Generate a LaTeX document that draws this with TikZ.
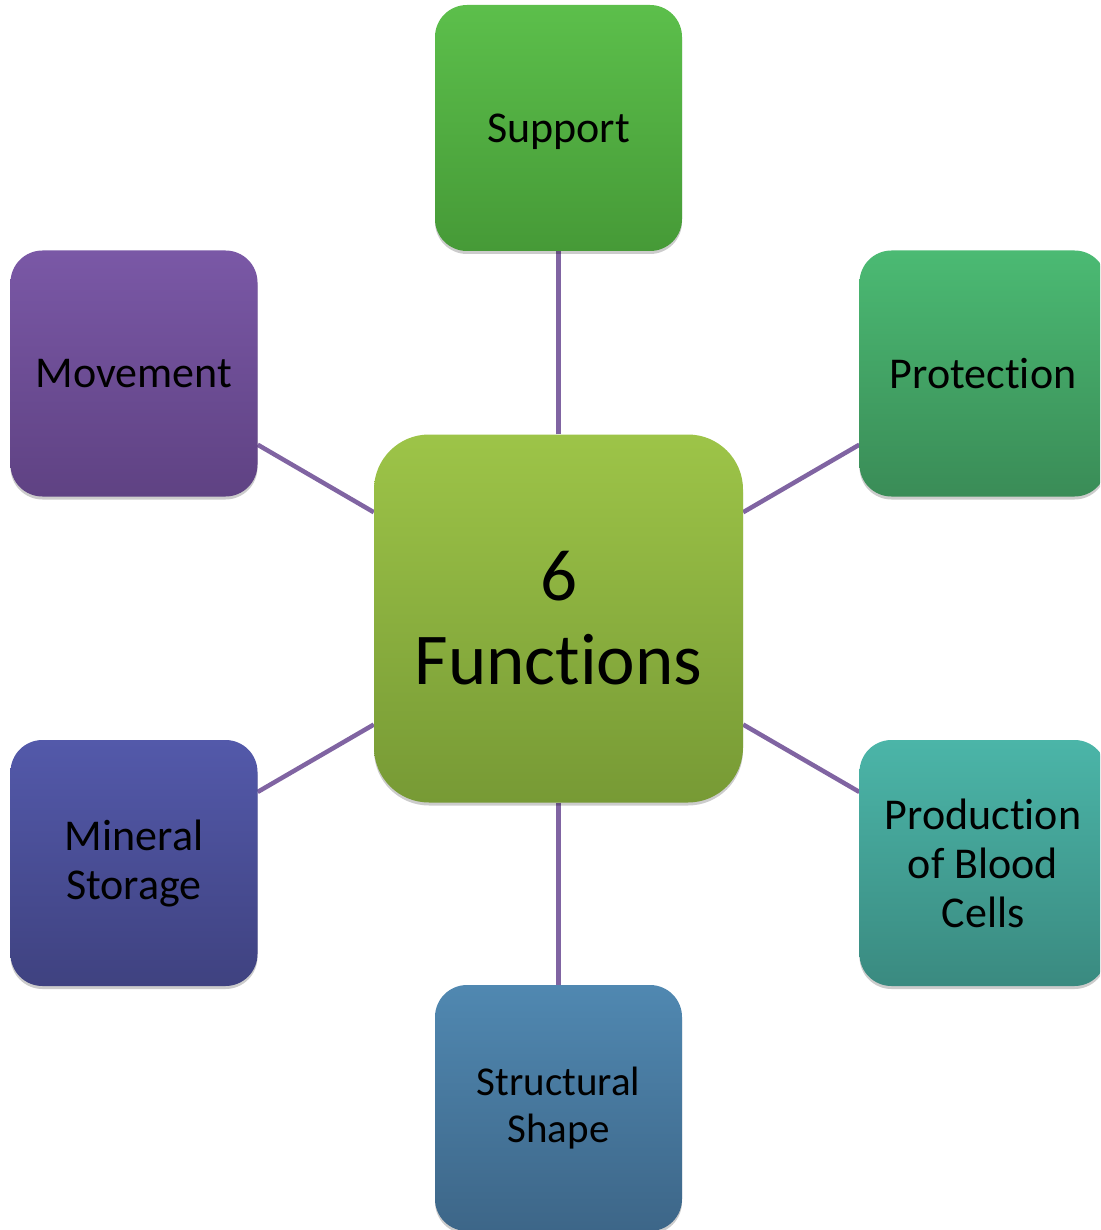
\documentclass[tikz,border=0pt]{standalone}
\usepackage{fontspec}
\setmainfont[Ligatures={NoCommon,NoRare,NoContextual}]{Carlito}
\usetikzlibrary{backgrounds,shadows}
\newcommand{\nolig}{\kern0pt}
\definecolor{linec}{HTML}{8064A2}
\definecolor{supT}{HTML}{5CBF4B}\definecolor{supB}{HTML}{469A37}
\definecolor{proT}{HTML}{4BBA73}\definecolor{proB}{HTML}{3A8C57}
\definecolor{prdT}{HTML}{4BB5A8}\definecolor{prdB}{HTML}{3A8A80}
\definecolor{strT}{HTML}{5088B1}\definecolor{strB}{HTML}{3D6688}
\definecolor{minT}{HTML}{5359AA}\definecolor{minB}{HTML}{3F4280}
\definecolor{movT}{HTML}{7A58A6}\definecolor{movB}{HTML}{5F4283}
\definecolor{cenT}{HTML}{9DC448}\definecolor{cenB}{HTML}{779A35}
\tikzset{
  fbox/.style 2 args={rectangle, rounded corners=32pt, minimum width=247pt,
    minimum height=246pt, inner sep=0pt, top color=#1, bottom color=#2,
    draw=none, align=center, text=black,
    font=\fontsize{44}{49}\selectfont,
    drop shadow={shadow xshift=0pt, shadow yshift=-3pt, opacity=0.2, fill=black}},
  conn/.style={draw=linec, line width=4.5pt}
}
\begin{document}
\begin{tikzpicture}[x=1pt,y=-1pt]
\useasboundingbox (0,0) rectangle (1100,1230);
\clip (0,0) rectangle (1100,1230);
\node[fbox={cenT}{cenB}, minimum width=369pt, minimum height=368pt, rounded corners=55pt,
  font=\fontsize{73}{84}\selectfont] (c) at (558.5,618.5) {6\\Funct\nolig ions};
\node[fbox={supT}{supB}, text depth=0pt] (sup) at (558.5,128) {Support};
\node[fbox={movT}{movB}] (mov) at (134,373.5) {Movement};
\node[fbox={proT}{proB}] (pro) at (983,373.5) {Protect\nolig ion};
\node[fbox={minT}{minB}] (min) at (134,863) {Mineral\\Storage};
\node[fbox={prdT}{prdB}] (prd) at (983,863) {Product\nolig ion\\of Blood\\Cells};
\node[fbox={strT}{strB}, font=\fontsize{41}{47}\selectfont] (str) at (558.5,1108) {Structural\\Shape};
\begin{scope}[on background layer]
\draw[conn] (c) -- (sup);
\draw[conn] (c) -- (mov);
\draw[conn] (c) -- (pro);
\draw[conn] (c) -- (min);
\draw[conn] (c) -- (prd);
\draw[conn] (c) -- (str);
\end{scope}
\end{tikzpicture}
\end{document}
